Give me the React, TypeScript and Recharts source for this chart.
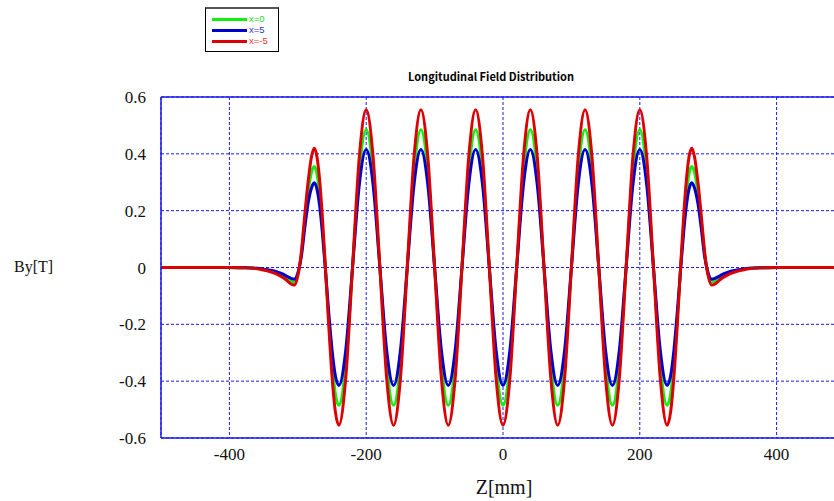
import { LineChart, Line, XAxis, YAxis, CartesianGrid, ReferenceLine } from 'recharts'

// z positions in mm (denser near the ends where the shape is less regular)
const zPositions = [
  -500, -450, -400, -380, -360, -350, -340, -330, -320, -315, -310, -305, -300,
  -295, -290, -285, -280, -276, -272, -268, -264, -260, -255, -250, -245,
  -240, -230, -220, -210, -200, -190, -180, -170,
  -160, -150, -140, -130, -120, -110, -100, -90,
  -80, -70, -60, -50, -40, -30, -20, -10,
  0, 10, 20, 30, 40, 50, 60, 70,
  80, 90, 100, 110, 120, 130, 140, 150,
  160, 170, 180, 190, 200, 210, 220, 230,
  240,
  245, 250, 255, 260, 264, 268, 272, 276, 280, 285, 290, 295, 300,
  305, 310, 315, 320, 330, 340, 350, 360, 380, 400, 450, 500,
]

// By[T] at x = -5
const redValues = [
  0, 0, 0, -0.001, -0.004, -0.009, -0.015, -0.024, -0.038, -0.048, -0.058, -0.062, -0.03,
  0.05, 0.18, 0.3, 0.39, 0.42, 0.39, 0.306, 0.176, 0.017, -0.194, -0.381, -0.509,
  -0.555, -0.392, 0, 0.392, 0.555, 0.392, 0, -0.392,
  -0.555, -0.392, 0, 0.392, 0.555, 0.392, 0, -0.392,
  -0.555, -0.392, 0, 0.392, 0.555, 0.392, 0, -0.392,
  -0.555, -0.392, 0, 0.392, 0.555, 0.392, 0, -0.392,
  -0.555, -0.392, 0, 0.392, 0.555, 0.392, 0, -0.392,
  -0.555, -0.392, 0, 0.392, 0.555, 0.392, 0, -0.392,
  -0.555,
  -0.509, -0.381, -0.194, 0.017, 0.176, 0.306, 0.39, 0.42, 0.39, 0.3, 0.18, 0.05, -0.03,
  -0.062, -0.058, -0.048, -0.038, -0.024, -0.015, -0.009, -0.004, -0.001, 0, 0, 0,
]

// By[T] at x = 0
const greenValues = [
  0, 0, 0, -0.001, -0.003, -0.007, -0.012, -0.02, -0.032, -0.041, -0.049, -0.052, -0.025,
  0.045, 0.16, 0.265, 0.335, 0.355, 0.33, 0.257, 0.145, 0.008, -0.174, -0.335, -0.446,
  -0.485, -0.343, 0, 0.343, 0.485, 0.343, 0, -0.343,
  -0.485, -0.343, 0, 0.343, 0.485, 0.343, 0, -0.343,
  -0.485, -0.343, 0, 0.343, 0.485, 0.343, 0, -0.343,
  -0.485, -0.343, 0, 0.343, 0.485, 0.343, 0, -0.343,
  -0.485, -0.343, 0, 0.343, 0.485, 0.343, 0, -0.343,
  -0.485, -0.343, 0, 0.343, 0.485, 0.343, 0, -0.343,
  -0.485,
  -0.446, -0.335, -0.174, 0.008, 0.145, 0.257, 0.33, 0.355, 0.335, 0.265, 0.16, 0.045, -0.025,
  -0.052, -0.049, -0.041, -0.032, -0.02, -0.012, -0.007, -0.003, -0.001, 0, 0, 0,
]

// By[T] at x = 5
const blueValues = [
  0, 0, 0, -0.001, -0.003, -0.006, -0.01, -0.016, -0.025, -0.032, -0.038, -0.041, -0.02,
  0.035, 0.135, 0.225, 0.28, 0.298, 0.276, 0.215, 0.12, 0.003, -0.151, -0.288, -0.382,
  -0.415, -0.293, 0, 0.293, 0.415, 0.293, 0, -0.293,
  -0.415, -0.293, 0, 0.293, 0.415, 0.293, 0, -0.293,
  -0.415, -0.293, 0, 0.293, 0.415, 0.293, 0, -0.293,
  -0.415, -0.293, 0, 0.293, 0.415, 0.293, 0, -0.293,
  -0.415, -0.293, 0, 0.293, 0.415, 0.293, 0, -0.293,
  -0.415, -0.293, 0, 0.293, 0.415, 0.293, 0, -0.293,
  -0.415,
  -0.382, -0.288, -0.151, 0.003, 0.12, 0.215, 0.276, 0.298, 0.28, 0.225, 0.135, 0.035, -0.02,
  -0.041, -0.038, -0.032, -0.025, -0.016, -0.01, -0.006, -0.003, -0.001, 0, 0, 0,
]

const xTicks = [-400, -200, 0, 200, 400]
const yTicks = [-0.6, -0.4, -0.2, 0, 0.2, 0.4, 0.6]

const legendItems = [
  { label: 'x=0', color: '#11ee11', text: '#22dd22' },
  { label: 'x=5', color: '#0000cc', text: '#3333dd' },
  { label: 'x=-5', color: '#dd0000', text: '#ee3333' },
]

const data = zPositions.map((z, i) => ({
  z,
  green: greenValues[i],
  blue: blueValues[i],
  red: redValues[i],
}))

const serif = '"Liberation Serif", "DejaVu Serif", serif'
const gridBlue = '#1a1aee'

// tick text drawn by hand so the serif face sticks
const xTick = (p: any) => (
  <text
    key={`x-${p.index}`}
    x={p.x}
    y={p.y + 13}
    textAnchor="middle"
    fill="#111"
    fontSize={17}
    fontFamily="Liberation Serif"
    style={{ fontFamily: serif }}
  >
    {String(p.payload.value)}
  </text>
)

const yTick = (p: any) => (
  <text
    key={`y-${p.index}`}
    x={p.x + 1}
    y={p.y + 6}
    textAnchor="end"
    fill="#111"
    fontSize={17}
    fontFamily="Liberation Serif"
    style={{ fontFamily: serif }}
  >
    {String(p.payload.value)}
  </text>
)

export default function App() {
  return (
    <div
      style={{
        position: 'relative',
        width: 834,
        height: 501,
        overflow: 'hidden',
        background: '#fff',
      }}
    >
      <style>{'body{margin:0}'}</style>

      {/* legend box */}
      <div
        style={{
          position: 'absolute',
          left: 205,
          top: 7,
          width: 72,
          height: 42,
          border: '1px solid #000',
          borderTop: '2px solid #555',
          fontFamily: '"Liberation Sans", sans-serif',
          fontSize: 9.5,
        }}
      >
        {legendItems.map((it, i) => (
          <div
            key={it.label}
            style={{
              position: 'absolute',
              left: 6,
              top: 5 + i * 11,
              display: 'flex',
              alignItems: 'center',
              height: 10,
            }}
          >
            <span style={{ width: 35, height: 3, background: it.color, display: 'inline-block' }} />
            <span style={{ color: it.text, marginLeft: 2, lineHeight: '10px' }}>{it.label}</span>
          </div>
        ))}
      </div>

      <div
        style={{
          position: 'absolute',
          left: 0,
          width: 834,
          top: 68,
          textAlign: 'center',
          paddingLeft: 148,
          boxSizing: 'border-box',
          fontFamily: '"Noto Sans CJK JP", sans-serif',
          fontWeight: 'bold',
          fontSize: 11,
          color: '#000',
        }}
      >
        Longitudinal Field Distribution
      </div>

      <div
        style={{
          position: 'absolute',
          left: 14,
          top: 258,
          fontFamily: serif,
          fontSize: 16,
          color: '#111',
        }}
      >
        By[T]
      </div>

      <div
        style={{
          position: 'absolute',
          left: 454,
          width: 100,
          textAlign: 'center',
          top: 476,
          fontFamily: serif,
          fontSize: 20,
          color: '#111',
        }}
      >
        Z[mm]
      </div>

      <LineChart
        width={850}
        height={501}
        data={data}
        margin={{ top: 97, right: 5, bottom: 33, left: 0 }}
        style={{ position: 'absolute', left: 0, top: 0, fontFamily: serif }}
      >
        <CartesianGrid stroke={gridBlue} strokeDasharray="3 2" strokeWidth={1} />
        <XAxis
          type="number"
          dataKey="z"
          domain={[-500, 500]}
          ticks={xTicks}
          allowDataOverflow
          height={30}
          tick={xTick}
          tickLine={false}
          tickMargin={3}
          axisLine={{ stroke: gridBlue, strokeWidth: 1.5 }}
        />
        <YAxis
          type="number"
          domain={[-0.6, 0.6]}
          ticks={yTicks}
          width={161}
          tick={yTick}
          tickLine={false}
          tickMargin={10}
          axisLine={{ stroke: gridBlue, strokeWidth: 1.5 }}
        />
        <ReferenceLine y={0.6} stroke={gridBlue} strokeWidth={1.5} />
        <Line
          type="monotone"
          dataKey="green"
          stroke="#11ee11"
          strokeWidth={3}
          dot={false}
          isAnimationActive={false}
        />
        <Line
          type="monotone"
          dataKey="blue"
          stroke="#0000cc"
          strokeWidth={3}
          dot={false}
          isAnimationActive={false}
        />
        <Line
          type="monotone"
          dataKey="red"
          stroke="#dd0000"
          strokeWidth={3}
          dot={false}
          isAnimationActive={false}
        />
      </LineChart>
    </div>
  )
}
